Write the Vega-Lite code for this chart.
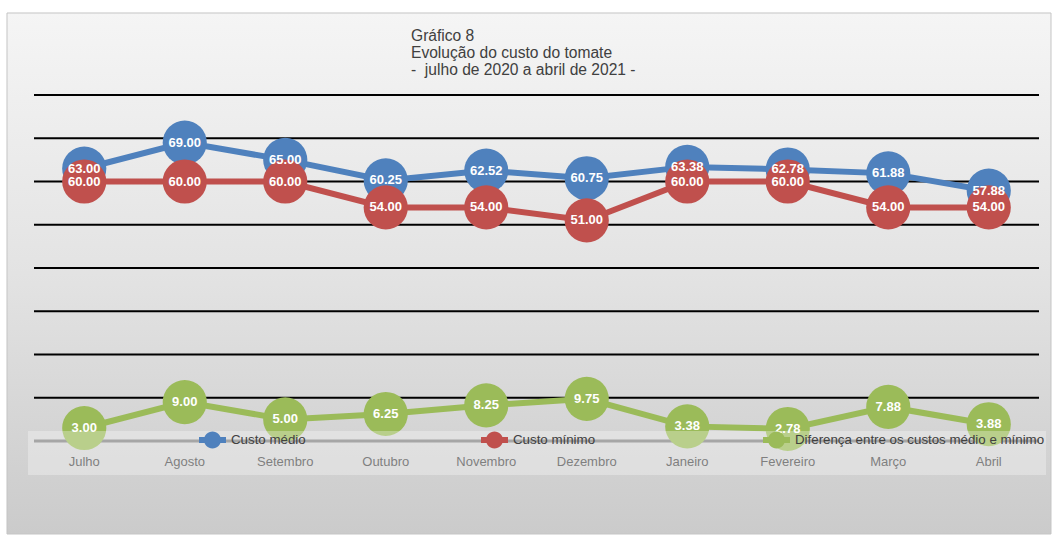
{
  "$schema": "https://vega.github.io/schema/vega-lite/v6.json",
  "width": 1005,
  "height": 346,
  "padding": {"left": 6, "top": 12, "right": 3, "bottom": 2},
  "background": "white",
  "config": {
    "view": {"stroke": null},
    "font": "Liberation Sans"
  },
  "title": {
    "text": ["Gráfico 8", "Evolução do custo do tomate", "-\u00a0 julho de 2020 a abril de 2021 -"],
    "frame": "group",
    "anchor": "start",
    "dx": 377,
    "offset": -66,
    "fontSize": 15.6,
    "fontWeight": "normal",
    "color": "#404040",
    "lineHeight": 17,
    "font": "Liberation Sans"
  },
  "datasets": {
    "custos": [
      {"serie": "Custo médio", "mes": "Julho", "valor": 63.00},
      {"serie": "Custo médio", "mes": "Agosto", "valor": 69.00},
      {"serie": "Custo médio", "mes": "Setembro", "valor": 65.00},
      {"serie": "Custo médio", "mes": "Outubro", "valor": 60.25},
      {"serie": "Custo médio", "mes": "Novembro", "valor": 62.52},
      {"serie": "Custo médio", "mes": "Dezembro", "valor": 60.75},
      {"serie": "Custo médio", "mes": "Janeiro", "valor": 63.38},
      {"serie": "Custo médio", "mes": "Fevereiro", "valor": 62.78},
      {"serie": "Custo médio", "mes": "Março", "valor": 61.88},
      {"serie": "Custo médio", "mes": "Abril", "valor": 57.88},
      {"serie": "Custo mínimo", "mes": "Julho", "valor": 60.00},
      {"serie": "Custo mínimo", "mes": "Agosto", "valor": 60.00},
      {"serie": "Custo mínimo", "mes": "Setembro", "valor": 60.00},
      {"serie": "Custo mínimo", "mes": "Outubro", "valor": 54.00},
      {"serie": "Custo mínimo", "mes": "Novembro", "valor": 54.00},
      {"serie": "Custo mínimo", "mes": "Dezembro", "valor": 51.00},
      {"serie": "Custo mínimo", "mes": "Janeiro", "valor": 60.00},
      {"serie": "Custo mínimo", "mes": "Fevereiro", "valor": 60.00},
      {"serie": "Custo mínimo", "mes": "Março", "valor": 54.00},
      {"serie": "Custo mínimo", "mes": "Abril", "valor": 54.00},
      {"serie": "Diferença entre os custos médio e mínimo", "mes": "Julho", "valor": 3.00},
      {"serie": "Diferença entre os custos médio e mínimo", "mes": "Agosto", "valor": 9.00},
      {"serie": "Diferença entre os custos médio e mínimo", "mes": "Setembro", "valor": 5.00},
      {"serie": "Diferença entre os custos médio e mínimo", "mes": "Outubro", "valor": 6.25},
      {"serie": "Diferença entre os custos médio e mínimo", "mes": "Novembro", "valor": 8.25},
      {"serie": "Diferença entre os custos médio e mínimo", "mes": "Dezembro", "valor": 9.75},
      {"serie": "Diferença entre os custos médio e mínimo", "mes": "Janeiro", "valor": 3.38},
      {"serie": "Diferença entre os custos médio e mínimo", "mes": "Fevereiro", "valor": 2.78},
      {"serie": "Diferença entre os custos médio e mínimo", "mes": "Março", "valor": 7.88},
      {"serie": "Diferença entre os custos médio e mínimo", "mes": "Abril", "valor": 3.88}
    ],
    "grade": [
      {"v": 10}, {"v": 20}, {"v": 30}, {"v": 40}, {"v": 50}, {"v": 60}, {"v": 70}, {"v": 80}
    ],
    "um": [{"k": 1}]
  },
  "encoding": {
    "x": {
      "field": "mes",
      "type": "nominal",
      "scale": {
        "type": "band",
        "domain": ["Julho", "Agosto", "Setembro", "Outubro", "Novembro", "Dezembro", "Janeiro", "Fevereiro", "Março", "Abril"],
        "paddingInner": 0,
        "paddingOuter": 0
      },
      "axis": {
        "title": null,
        "domain": false,
        "ticks": false,
        "grid": false,
        "labelAngle": 0,
        "labelFontSize": 13,
        "labelColor": "#7f7f7f",
        "labelPadding": 14,
        "labelFont": "Liberation Sans",
        "zindex": 1
      }
    }
  },
  "layer": [
    {
      "data": {"name": "um"},
      "mark": {
        "type": "rect",
        "fill": {
          "gradient": "linear",
          "x1": 0, "y1": 0, "x2": 0, "y2": 1,
          "stops": [
            {"offset": 0, "color": "#f5f5f5"},
            {"offset": 0.5, "color": "#e3e3e3"},
            {"offset": 1, "color": "#cbcbcb"}
          ]
        },
        "stroke": "#c4c4c4",
        "strokeWidth": 1
      },
      "encoding": {
        "x": {"datum": "Julho", "bandPosition": -0.2687},
        "x2": {"datum": "Abril", "bandPosition": 1.1194},
        "y": {"datum": 98.96, "type": "quantitative", "scale": {"domain": [0, 80], "nice": false, "zero": true}, "axis": null},
        "y2": {"datum": -21.5}
      }
    },
    {
      "data": {"name": "grade"},
      "mark": {"type": "rule", "color": "#000000", "strokeWidth": 2},
      "encoding": {
        "x": null,
        "y": {"field": "v", "type": "quantitative"}
      }
    },
    {
      "data": {"name": "um"},
      "mark": {"type": "rule", "color": "#808080", "strokeWidth": 3},
      "encoding": {
        "x": null,
        "y": {"datum": 0, "type": "quantitative"}
      }
    },
    {
      "data": {"name": "custos"},
      "mark": {"type": "line", "strokeWidth": 6},
      "encoding": {
        "y": {"field": "valor", "type": "quantitative"},
        "color": {
          "field": "serie",
          "type": "nominal",
          "scale": {
            "domain": ["Custo médio", "Custo mínimo", "Diferença entre os custos médio e mínimo"],
            "range": ["#4f81bd", "#c0504d", "#9bbb59"]
          },
          "legend": {
            "title": null,
            "orient": "none",
            "legendX": 165,
            "legendY": 331,
            "direction": "horizontal",
            "columns": 3,
            "gridAlign": "all",
            "columnPadding": 0,
            "padding": 0,
            "labelOffset": 5,
            "labelFontSize": 13.3,
            "labelColor": "#404040",
            "labelFont": "Liberation Sans",
            "labelLimit": 400,
            "symbolType": "M-1,-0.22H1V0.22H-1Z M-0.63,0A0.63,0.63 0 1,1 0.63,0A0.63,0.63 0 1,1 -0.63,0Z",
            "symbolSize": 729,
            "symbolStrokeWidth": 0,
            "symbolOpacity": 1
          }
        }
      }
    },
    {
      "data": {"name": "custos"},
      "mark": {"type": "point", "filled": true, "opacity": 1, "size": 1950, "shape": "circle"},
      "encoding": {
        "y": {"field": "valor", "type": "quantitative"},
        "color": {
          "field": "serie",
          "type": "nominal",
          "legend": {
            "title": null,
            "orient": "none",
            "legendX": 165,
            "legendY": 331,
            "direction": "horizontal",
            "columns": 3,
            "gridAlign": "all",
            "columnPadding": 0,
            "padding": 0,
            "labelOffset": 5,
            "labelFontSize": 13.3,
            "labelColor": "#404040",
            "labelFont": "Liberation Sans",
            "labelLimit": 400,
            "symbolType": "M-1,-0.22H1V0.22H-1Z M-0.63,0A0.63,0.63 0 1,1 0.63,0A0.63,0.63 0 1,1 -0.63,0Z",
            "symbolSize": 729,
            "symbolStrokeWidth": 0,
            "symbolOpacity": 1
          }
        }
      }
    },
    {
      "data": {"name": "custos"},
      "mark": {"type": "text", "color": "white", "fontWeight": "bold", "fontSize": 13, "font": "Liberation Sans", "baseline": "middle", "align": "center"},
      "encoding": {
        "y": {"field": "valor", "type": "quantitative"},
        "text": {"field": "valor", "type": "quantitative", "format": ".2f"}
      }
    },
    {
      "data": {"name": "um"},
      "mark": {"type": "rect", "fill": "white", "fillOpacity": 0.3},
      "encoding": {
        "x": {"datum": "Julho", "bandPosition": -0.0597},
        "x2": {"datum": "Abril", "bandPosition": 1.0697},
        "y": {"datum": 2.31, "type": "quantitative"},
        "y2": {"datum": -7.86}
      }
    }
  ]
}
